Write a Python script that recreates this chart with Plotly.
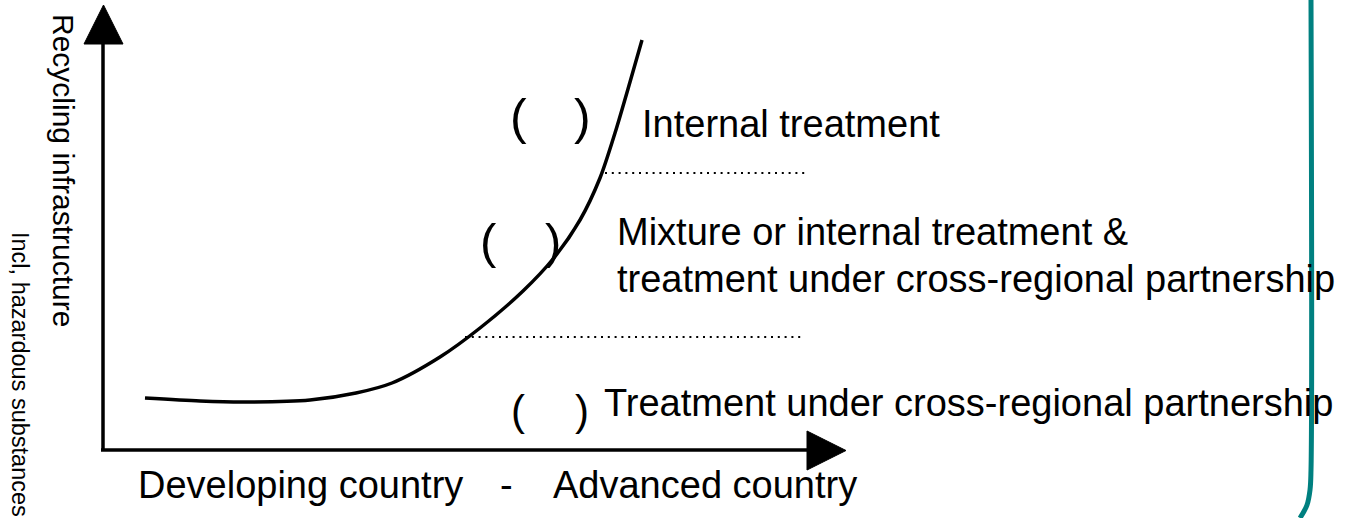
import plotly.graph_objects as go

W, H = 1353, 518

# Curve (schematic), in picture pixel units
curve_x = [145, 200, 244, 310, 356, 392, 440, 480, 523, 553, 580, 600, 615, 630, 642]
curve_y = [398, 401, 402, 400, 393, 383, 357, 328, 291, 259, 220, 178, 133, 82, 40]

# Zone boundary (dotted) lines
boundary_y = [173, 337]
boundary_x0 = [605, 465]
boundary_x1 = [807, 805]

# Axes
yaxis_line_x = [103, 103]
yaxis_line_y = [451, 44]
xaxis_line_x = [101, 808]
xaxis_line_y = [450, 450]
yarrow_x = [84, 123, 103.5, 84]
yarrow_y = [44, 44, 5, 44]
xarrow_x = [807, 807, 846, 807]
xarrow_y = [431, 470, 450.5, 431]

# Teal frame line on the right
frame_x = [1311, 1311, 1310, 1307, 1300]
frame_y = [0, 470, 490, 505, 518]

# Zone labels
zone_labels = [
    "Internal treatment",
    "Mixture or internal treatment &",
    "treatment under cross-regional partnership",
    "Treatment under cross-regional partnership",
]
zone_x = [641, 616, 616, 603]
zone_y = [124, 232, 279, 403]

# Parentheses
paren_left_x = [518, 488, 518]
paren_right_x = [582, 553, 582]
paren_y = [117, 241, 410]
paren_size = [50, 49, 42]

# Axis titles
x_title_parts = ["Developing country", "-", "Advanced country"]
x_title_x = [137, 506, 552]
x_title_anchor = ["left", "center", "left"]
y_title = "Recycling infrastructure"
y_subtitle = "Incl, hazardous substances"

FONT = "Liberation Sans, Arial, sans-serif"

fig = go.Figure()

# axes
fig.add_trace(go.Scatter(x=yaxis_line_x, y=yaxis_line_y, mode="lines",
                         line=dict(color="black", width=3.5), hoverinfo="skip"))
fig.add_trace(go.Scatter(x=xaxis_line_x, y=xaxis_line_y, mode="lines",
                         line=dict(color="black", width=3.5), hoverinfo="skip"))
fig.add_trace(go.Scatter(x=yarrow_x, y=yarrow_y, mode="lines", fill="toself",
                         fillcolor="black", line=dict(color="black", width=1), hoverinfo="skip"))
fig.add_trace(go.Scatter(x=xarrow_x, y=xarrow_y, mode="lines", fill="toself",
                         fillcolor="black", line=dict(color="black", width=1), hoverinfo="skip"))

# curve
fig.add_trace(go.Scatter(x=curve_x, y=curve_y, mode="lines",
                         line=dict(color="black", width=3.5, shape="spline", smoothing=0.8),
                         hoverinfo="skip"))

# dotted boundaries
for by, bx0, bx1 in zip(boundary_y, boundary_x0, boundary_x1):
    fig.add_trace(go.Scatter(x=[bx0, bx1], y=[by, by], mode="lines",
                             line=dict(color="black", width=2, dash="2px,4.8px"),
                             hoverinfo="skip"))

# teal frame
fig.add_trace(go.Scatter(x=frame_x, y=frame_y, mode="lines",
                         line=dict(color="#008080", width=5, shape="spline"),
                         hoverinfo="skip"))

ann = []
for t, x, y in zip(zone_labels, zone_x, zone_y):
    ann.append(dict(text=t, x=x, y=y, xanchor="left", yanchor="middle",
                    font=dict(size=38, color="black", family=FONT)))
for lx, rx, y, s in zip(paren_left_x, paren_right_x, paren_y, paren_size):
    ann.append(dict(text="(", x=lx, y=y, xanchor="center", yanchor="middle",
                    font=dict(size=s, color="black", family=FONT)))
    ann.append(dict(text=")", x=rx, y=y, xanchor="center", yanchor="middle",
                    font=dict(size=s, color="black", family=FONT)))
for t, x, a in zip(x_title_parts, x_title_x, x_title_anchor):
    ann.append(dict(text=t, x=x, y=485, xanchor=a, yanchor="middle",
                    font=dict(size=38, color="black", family=FONT)))
ann.append(dict(text=y_title, x=64, y=170, textangle=90, xanchor="center", yanchor="middle",
                font=dict(size=30, color="black", family=FONT)))
ann.append(dict(text=y_subtitle, x=20, y=374, textangle=90, xanchor="center", yanchor="middle",
                font=dict(size=23.5, color="black", family=FONT)))
for a in ann:
    a.update(xref="x", yref="y", showarrow=False, borderpad=0)

fig.update_layout(
    width=W, height=H,
    margin=dict(l=0, r=0, t=0, b=0),
    paper_bgcolor="white", plot_bgcolor="white",
    showlegend=False,
    annotations=ann,
    xaxis=dict(range=[0, W], visible=False, fixedrange=True),
    yaxis=dict(range=[H, 0], visible=False, fixedrange=True),
)

fig.write_html("out.html", config={"displayModeBar": False},
               post_script="document.body.style.margin='0';document.body.style.overflow='hidden';")
